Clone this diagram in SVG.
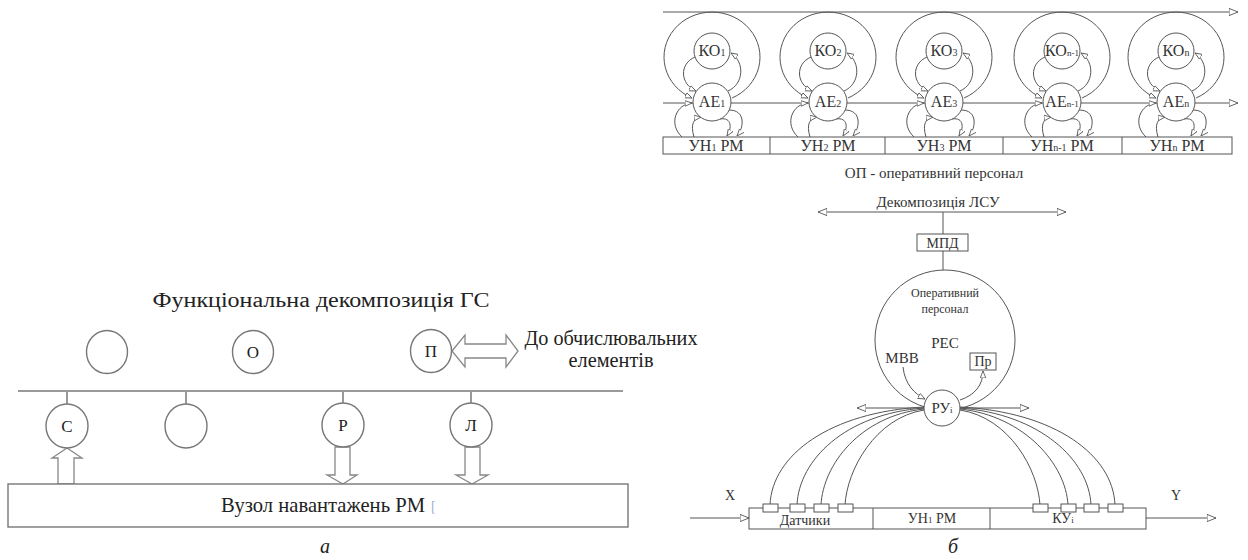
<svg xmlns="http://www.w3.org/2000/svg" width="1248" height="560" viewBox="0 0 1248 560">
<style>
.bg{fill:#fff}
.ln{stroke:#555;stroke-width:1;fill:none}
.nd{fill:#fff;stroke:#555;stroke-width:1}
.lnA{stroke:#999;stroke-width:2;fill:none}
.ndA{fill:#fff;stroke:#777;stroke-width:1.4}
.ar{fill:#fff;stroke:#888;stroke-width:1.3}
.t{font-family:"Liberation Serif","DejaVu Serif",serif;fill:#222}
.ts{font-family:"Liberation Serif","DejaVu Serif",serif;fill:#333}
.c{text-anchor:middle}
</style>
<defs>
<marker id="ah" viewBox="0 0 10 10" refX="10" refY="5" markerWidth="9" markerHeight="9" orient="auto" markerUnits="userSpaceOnUse"><path d="M0,1 L10,5 L0,9 Z" fill="#fff" stroke="#555" stroke-width="1"/></marker>
<marker id="as" viewBox="0 0 10 10" refX="10" refY="5" markerWidth="7" markerHeight="7" orient="auto" markerUnits="userSpaceOnUse"><path d="M0,1 L10,5 L0,9 Z" fill="#fff" stroke="#555" stroke-width="1.2"/></marker>
</defs>
<rect class="bg" x="0" y="0" width="1248" height="560"/>

<!-- ===== Diagram a ===== -->
<g id="a-title"><text class="t c" x="321" y="307" font-size="20" textLength="337" lengthAdjust="spacingAndGlyphs">Функціональна декомпозиція ГС</text></g>
<g id="a-connectors">
<path class="lnA" d="M18,391 H623"/>
<path class="lnA" d="M67,391 V404 M186,391 V404 M343,391 V403 M471,391 V403"/>
<polygon class="ar" points="67,448 82,458 74,458 74,484 58,484 58,458 52,458"/>
<polygon class="ar" points="335,447 350,447 350,475 357,475 343,484 327,475 335,475"/>
<polygon class="ar" points="465,447 480,447 480,475 488,475 472,484 456,475 465,475"/>
<polygon class="ar" points="452,351 465,335 465,344 506,344 506,335 518,351 506,367 506,358 465,358 465,367"/>
</g>
<g id="a-n1"><ellipse class="ndA" cx="107" cy="352" rx="20.5" ry="21.5"/></g>
<g id="a-O"><ellipse class="ndA" cx="253" cy="352" rx="20.5" ry="21.5"/><text class="t c" x="253" y="358" font-size="17">О</text></g>
<g id="a-P"><ellipse class="ndA" cx="431" cy="351" rx="20.5" ry="21.5"/><text class="t c" x="431" y="357" font-size="17">П</text></g>
<g id="a-out"><text class="t c" x="611" y="345" font-size="20" textLength="173" lengthAdjust="spacingAndGlyphs">До обчислювальних</text><text class="t c" x="611" y="367" font-size="20" textLength="85" lengthAdjust="spacingAndGlyphs">елементів</text></g>
<g id="a-S"><ellipse class="ndA" cx="67" cy="426" rx="21" ry="22"/><text class="t c" x="67" y="432" font-size="17">С</text></g>
<g id="a-n2"><ellipse class="ndA" cx="186" cy="426" rx="21" ry="22"/></g>
<g id="a-R"><ellipse class="ndA" cx="343" cy="425" rx="21" ry="22"/><text class="t c" x="343" y="431" font-size="17">Р</text></g>
<g id="a-L"><ellipse class="ndA" cx="471" cy="425" rx="21" ry="22"/><text class="t c" x="471" y="431" font-size="17">Л</text></g>
<g id="a-node"><rect class="ndA" x="8" y="484" width="620" height="43"/><text class="t c" x="323" y="512" font-size="21" textLength="204" lengthAdjust="spacingAndGlyphs">Вузол навантажень РМ</text><text class="t" x="431" y="511" font-size="14" style="fill:#9fb0c8">[</text></g>
<g id="a-label"><text class="t c" x="325" y="553" font-size="20" font-style="italic">а</text></g>

<!-- ===== Diagram б, top ===== -->
<g id="b-top-connectors">
<path class="ln" d="M663,12 H1238" marker-end="url(#ah)"/>
<path class="ln" d="M663,103 H1238" marker-end="url(#ah)"/>
</g>
<g id="b-clusters-connectors">
<g id="cl-conn-1" transform="translate(712,0)">
<path class="ln" d="M20,98 A48 45 0 1 0 -20,98" marker-end="url(#as)"/>
<path class="ln" d="M-17,57 C-33,64 -32,84 -16,91" marker-end="url(#as)"/>
<path class="ln" d="M16,91 C32,84 33,62 19,53" marker-end="url(#as)"/>
<path class="ln" d="M-30,137 C-44,124 -36,104 -20,103" marker-end="url(#as)"/>
<path class="ln" d="M-18,137 C-22,124 -18,118 -11,117" marker-end="url(#as)"/>
<path class="ln" d="M8,119 C20,117 20,128 15,136" marker-end="url(#as)"/>
<path class="ln" d="M17,110 C34,110 32,128 25,136" marker-end="url(#as)"/>
</g>
<g id="cl-conn-2" transform="translate(828,0)">
<path class="ln" d="M20,98 A48 45 0 1 0 -20,98" marker-end="url(#as)"/>
<path class="ln" d="M-17,57 C-33,64 -32,84 -16,91" marker-end="url(#as)"/>
<path class="ln" d="M16,91 C32,84 33,62 19,53" marker-end="url(#as)"/>
<path class="ln" d="M-30,137 C-44,124 -36,104 -20,103" marker-end="url(#as)"/>
<path class="ln" d="M-18,137 C-22,124 -18,118 -11,117" marker-end="url(#as)"/>
<path class="ln" d="M8,119 C20,117 20,128 15,136" marker-end="url(#as)"/>
<path class="ln" d="M17,110 C34,110 32,128 25,136" marker-end="url(#as)"/>
</g>
<g id="cl-conn-3" transform="translate(944,0)">
<path class="ln" d="M20,98 A48 45 0 1 0 -20,98" marker-end="url(#as)"/>
<path class="ln" d="M-17,57 C-33,64 -32,84 -16,91" marker-end="url(#as)"/>
<path class="ln" d="M16,91 C32,84 33,62 19,53" marker-end="url(#as)"/>
<path class="ln" d="M-30,137 C-44,124 -36,104 -20,103" marker-end="url(#as)"/>
<path class="ln" d="M-18,137 C-22,124 -18,118 -11,117" marker-end="url(#as)"/>
<path class="ln" d="M8,119 C20,117 20,128 15,136" marker-end="url(#as)"/>
<path class="ln" d="M17,110 C34,110 32,128 25,136" marker-end="url(#as)"/>
</g>
<g id="cl-conn-4" transform="translate(1062,0)">
<path class="ln" d="M20,98 A48 45 0 1 0 -20,98" marker-end="url(#as)"/>
<path class="ln" d="M-17,57 C-33,64 -32,84 -16,91" marker-end="url(#as)"/>
<path class="ln" d="M16,91 C32,84 33,62 19,53" marker-end="url(#as)"/>
<path class="ln" d="M-30,137 C-44,124 -36,104 -20,103" marker-end="url(#as)"/>
<path class="ln" d="M-18,137 C-22,124 -18,118 -11,117" marker-end="url(#as)"/>
<path class="ln" d="M8,119 C20,117 20,128 15,136" marker-end="url(#as)"/>
<path class="ln" d="M17,110 C34,110 32,128 25,136" marker-end="url(#as)"/>
</g>
<g id="cl-conn-5" transform="translate(1176,0)">
<path class="ln" d="M20,98 A48 45 0 1 0 -20,98" marker-end="url(#as)"/>
<path class="ln" d="M-17,57 C-33,64 -32,84 -16,91" marker-end="url(#as)"/>
<path class="ln" d="M16,91 C32,84 33,62 19,53" marker-end="url(#as)"/>
<path class="ln" d="M-30,137 C-44,124 -36,104 -20,103" marker-end="url(#as)"/>
<path class="ln" d="M-18,137 C-22,124 -18,118 -11,117" marker-end="url(#as)"/>
<path class="ln" d="M8,119 C20,117 20,128 15,136" marker-end="url(#as)"/>
<path class="ln" d="M17,110 C34,110 32,128 25,136" marker-end="url(#as)"/>
</g>
</g>

<g id="ko1"><circle class="nd" cx="712" cy="51" r="18"/><text class="ts c" x="712" y="56" font-size="16">КО<tspan font-size="10">1</tspan></text></g>
<g id="ae1"><circle class="nd" cx="712" cy="102" r="19"/><text class="ts c" x="712" y="107" font-size="16">АЕ<tspan font-size="10">1</tspan></text></g>
<g id="ko2"><circle class="nd" cx="828" cy="51" r="18"/><text class="ts c" x="828" y="56" font-size="16">КО<tspan font-size="10">2</tspan></text></g>
<g id="ae2"><circle class="nd" cx="828" cy="102" r="19"/><text class="ts c" x="828" y="107" font-size="16">АЕ<tspan font-size="10">2</tspan></text></g>
<g id="ko3"><circle class="nd" cx="944" cy="51" r="18"/><text class="ts c" x="944" y="56" font-size="16">КО<tspan font-size="10">3</tspan></text></g>
<g id="ae3"><circle class="nd" cx="944" cy="102" r="19"/><text class="ts c" x="944" y="107" font-size="16">АЕ<tspan font-size="10">3</tspan></text></g>
<g id="ko4"><circle class="nd" cx="1062" cy="51" r="18"/><text class="ts c" x="1062" y="56" font-size="16">КО<tspan font-size="9">n-1</tspan></text></g>
<g id="ae4"><circle class="nd" cx="1062" cy="102" r="19"/><text class="ts c" x="1062" y="107" font-size="16">АЕ<tspan font-size="9">n-1</tspan></text></g>
<g id="ko5"><circle class="nd" cx="1176" cy="51" r="18"/><text class="ts c" x="1176" y="56" font-size="16">КО<tspan font-size="10">n</tspan></text></g>
<g id="ae5"><circle class="nd" cx="1176" cy="102" r="19"/><text class="ts c" x="1176" y="107" font-size="16">АЕ<tspan font-size="10">n</tspan></text></g>

<g id="un-row">
<rect class="nd" x="663" y="137" width="569" height="17"/>
<path class="ln" d="M770,137 V154 M885,137 V154 M1003,137 V154 M1122,137 V154"/>
<text class="ts c" x="716" y="151" font-size="16">УН<tspan font-size="10">1</tspan> РМ</text>
<text class="ts c" x="828" y="151" font-size="16">УН<tspan font-size="10">2</tspan> РМ</text>
<text class="ts c" x="944" y="151" font-size="16">УН<tspan font-size="10">3</tspan> РМ</text>
<text class="ts c" x="1062" y="151" font-size="16">УН<tspan font-size="10">n-1</tspan> РМ</text>
<text class="ts c" x="1177" y="151" font-size="16">УН<tspan font-size="10">n</tspan> РМ</text>
</g>

<g id="op-caption"><text class="ts c" x="934" y="178" font-size="15">ОП - оперативний персонал</text></g>

<!-- ===== Diagram б, bottom ===== -->
<g id="b-connectors">
<path class="ln" d="M943,212 H818" marker-end="url(#ah)"/>
<path class="ln" d="M943,212 H1066" marker-end="url(#ah)"/>
<path class="ln" d="M943,212 V234 M943,251 V270"/>
<path class="ln" d="M942,408 H857" marker-end="url(#ah)"/>
<path class="ln" d="M942,408 H1029" marker-end="url(#ah)"/>
<path class="ln" d="M903,367 C905,385 915,394 925,399" marker-end="url(#as)"/>
<path class="ln" d="M960,400 C975,395 983,385 983,371" marker-end="url(#as)"/>
<path class="ln" d="M770,505 C772,455 830,412 924,407"/>
<path class="ln" d="M797,505 C799,460 845,414 924,408"/>
<path class="ln" d="M821,505 C823,465 860,416 924,409"/>
<path class="ln" d="M845,505 C847,470 875,418 924,410"/>
<path class="ln" d="M1040,505 C1038,470 1010,418 960,410"/>
<path class="ln" d="M1068,505 C1066,465 1025,416 960,409"/>
<path class="ln" d="M1091,505 C1089,460 1040,414 960,408"/>
<path class="ln" d="M1115,505 C1113,455 1055,412 960,407"/>
<path class="ln" d="M690,518 H749" marker-end="url(#ah)"/>
<path class="ln" d="M1146,518 H1216" marker-end="url(#ah)"/>
</g>
<g id="b-decomp"><text class="ts c" x="938" y="207" font-size="15">Декомпозиція ЛСУ</text></g>
<g id="mpd"><rect class="nd" x="917" y="234" width="51" height="17"/><text class="ts c" x="942.5" y="248" font-size="14">МПД</text></g>
<g id="op"><circle class="nd" cx="945" cy="340" r="70" style="fill:none"/>
<text class="ts c" x="945" y="297" font-size="12">Оперативний</text>
<text class="ts c" x="945" y="313" font-size="12">персонал</text></g>
<g id="res"><text class="ts c" x="945" y="348" font-size="15">РЕС</text></g>
<g id="mvv"><text class="ts c" x="902" y="363" font-size="15">МВВ</text></g>
<g id="pr"><rect class="nd" x="970" y="353" width="26" height="17"/><text class="ts c" x="983" y="366" font-size="14">Пр</text></g>
<g id="ru"><circle class="nd" cx="942" cy="408" r="18"/><text class="ts c" x="942" y="413" font-size="15">РУ<tspan font-size="9">i</tspan></text></g>

<g id="bottom-row">
<rect class="nd" x="749" y="508" width="397" height="21"/>
<path class="ln" d="M873,508 V529 M990,508 V529"/>
<text class="ts c" x="805" y="525" font-size="14">Датчики</text>
<text class="ts c" x="932" y="523" font-size="14">УН<tspan font-size="9">1</tspan> РМ</text>
<text class="ts c" x="1063" y="523" font-size="14">КУ<tspan font-size="9">i</tspan></text>
</g>
<g id="sensors">
<rect class="nd" x="763" y="504" width="15" height="8"/>
<rect class="nd" x="790" y="504" width="15" height="8"/>
<rect class="nd" x="814" y="504" width="15" height="8"/>
<rect class="nd" x="838" y="504" width="15" height="8"/>
</g>
<g id="actuators">
<rect class="nd" x="1033" y="504" width="15" height="8"/>
<rect class="nd" x="1061" y="504" width="15" height="8"/>
<rect class="nd" x="1084" y="504" width="15" height="8"/>
<rect class="nd" x="1108" y="504" width="15" height="8"/>
</g>
<g id="xy"><text class="ts c" x="730" y="500" font-size="14">X</text><text class="ts c" x="1176" y="500" font-size="14">Y</text></g>
<g id="b-label"><text class="t c" x="953" y="553" font-size="20" font-style="italic">б</text></g>
</svg>
